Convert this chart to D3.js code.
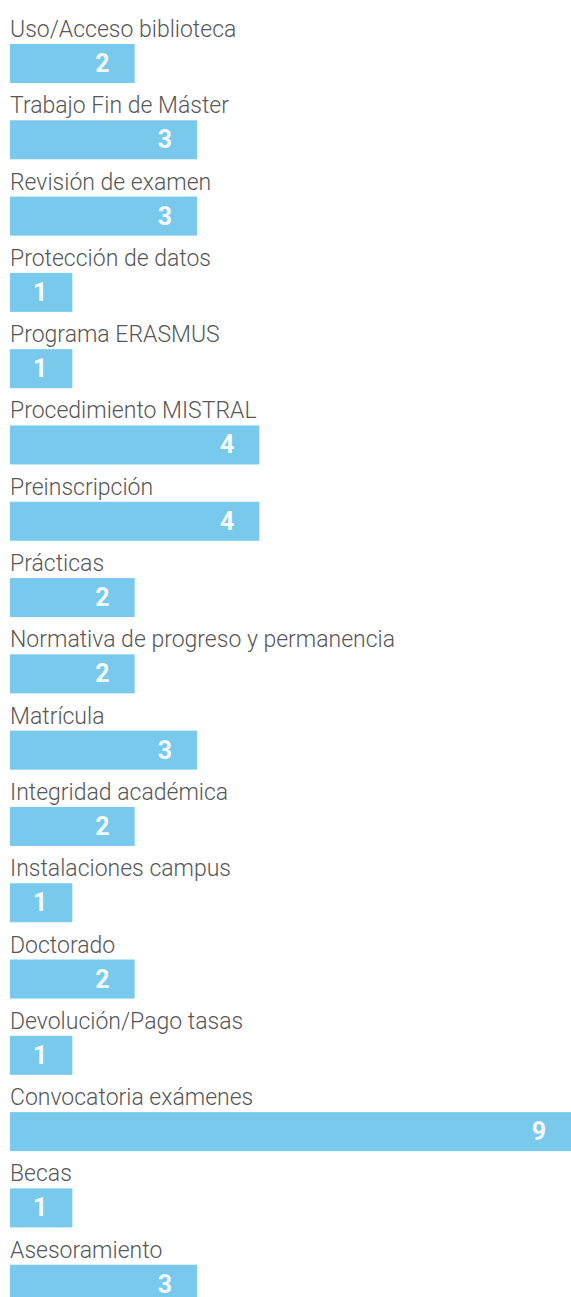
<!DOCTYPE html>
<html>
<head>
<meta charset="utf-8">
<script src="https://cdn.jsdelivr.net/npm/d3@7"></script>
<style>
  body { margin: 0; background: #fff; }
</style>
</head>
<body>
<div id="wrapper"></div>
<script>
// DATA
const categories = [
  'Uso/Acceso biblioteca', 'Trabajo Fin de Máster', 'Revisión de examen',
  'Protección de datos', 'Programa ERASMUS', 'Procedimiento MISTRAL',
  'Preinscripción', 'Prácticas', 'Normativa de progreso y permanencia',
  'Matrícula', 'Integridad académica', 'Instalaciones campus', 'Doctorado',
  'Devolución/Pago tasas', 'Convocatoria exámenes', 'Becas', 'Asesoramiento'
]
const values = [2, 3, 3, 1, 1, 4, 4, 2, 2, 3, 2, 1, 2, 1, 9, 1, 3]

function drawBarChart() {
  const dimensions = {
    width: 571,
    height: 1297,
    margin: { top: 0, right: 0, bottom: 0, left: 10 }
  }
  dimensions.boundedWidth = dimensions.width - dimensions.margin.left - dimensions.margin.right
  dimensions.boundedHeight = dimensions.height - dimensions.margin.top - dimensions.margin.bottom

  const wrapper = d3.select('#wrapper')
    .append('svg')
    .attr('width', dimensions.width)
    .attr('height', dimensions.height)

  const bounds = wrapper.append('g')
    .attr('transform', `translate(${dimensions.margin.left},${dimensions.margin.top})`)

  // SCALES
  const xScale = d3.scaleLinear()
    .domain([0, d3.max(values)])
    .range([0, dimensions.boundedWidth])

  const yScale = d3.scaleBand()
    .domain(categories)
    .range([0, dimensions.boundedHeight])

  const rows = bounds.selectAll('g.row')
    .data(categories)
    .join('g')
    .attr('class', 'row')
    .attr('transform', d => `translate(0,${yScale(d)})`)

  // category label above bar
  rows.append('text')
    .attr('x', 0)
    .attr('y', 37)
    .attr('fill', '#575757')
    .style('font-family', 'Roboto, sans-serif')
    .style('font-weight', 300)
    .style('font-size', '23px')
    .text(d => d)

  rows.append('rect')
    .attr('x', 0)
    .attr('y', 44)
    .attr('width', (d, i) => xScale(values[i]))
    .attr('height', 39)
    .attr('fill', '#78c9eb')

  // value label inside bar end
  rows.append('text')
    .attr('x', (d, i) => xScale(values[i]) - 25)
    .attr('y', 72)
    .attr('text-anchor', 'end')
    .attr('fill', '#f4fbfe')
    .style('font-family', '"Liberation Sans Narrow", Roboto, sans-serif')
    .style('font-weight', 700)
    .style('font-size', '25px')
    .text((d, i) => values[i])
}

drawBarChart()
</script>
</body>
</html>
